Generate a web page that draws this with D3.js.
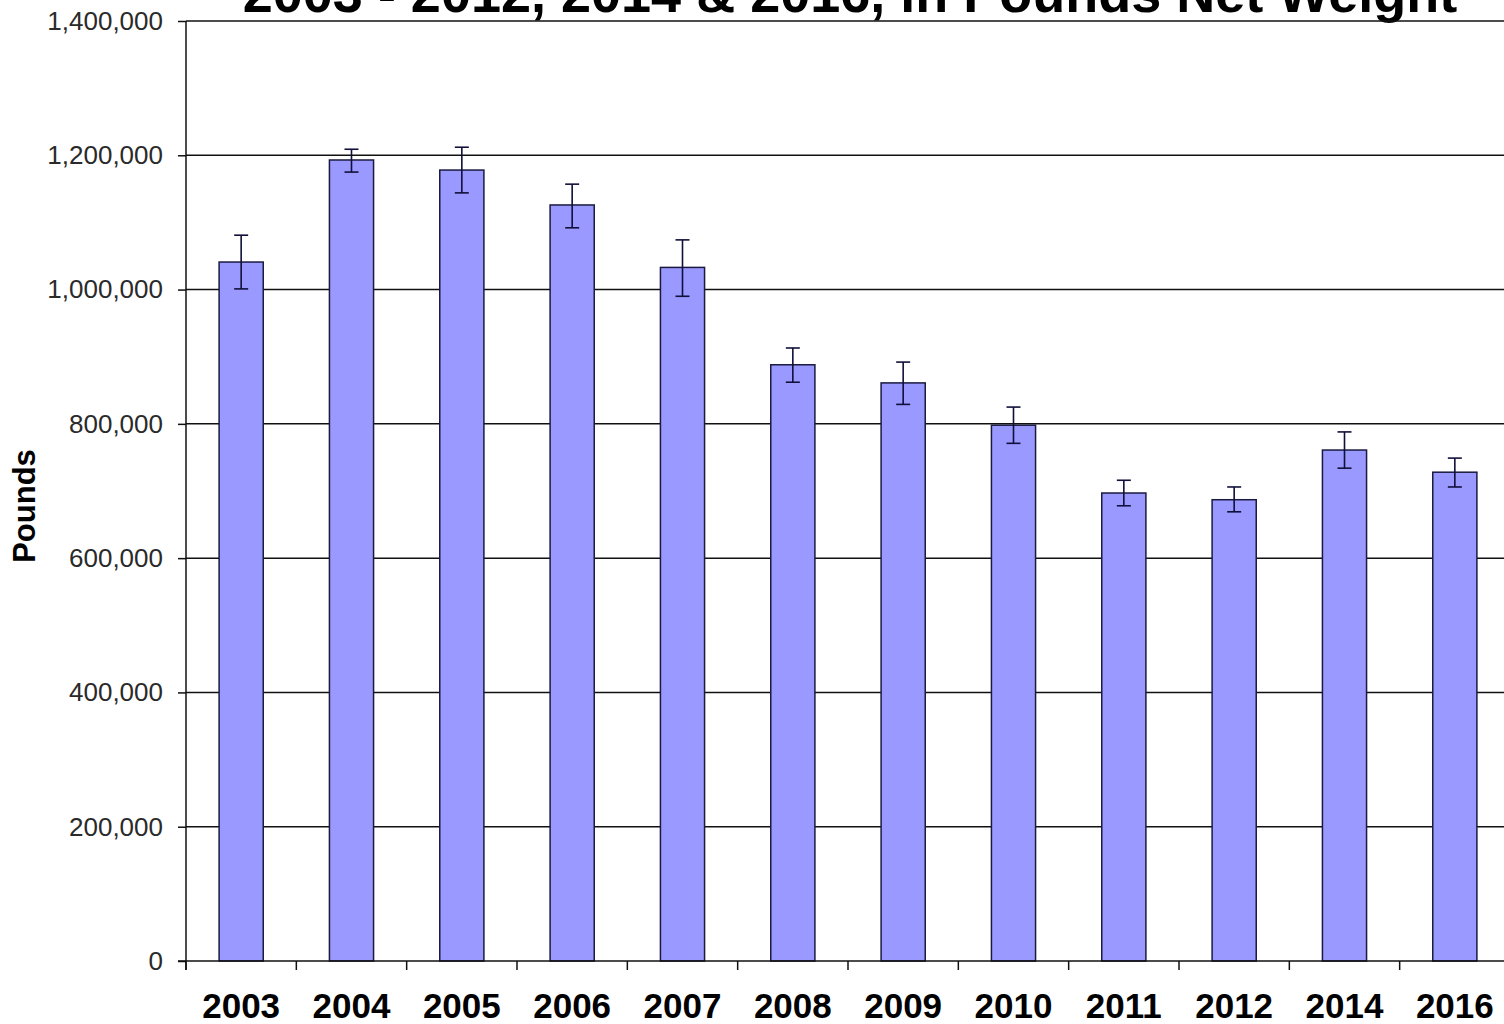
<!DOCTYPE html>
<html>
<head>
<meta charset="utf-8">
<script src="https://cdnjs.cloudflare.com/ajax/libs/d3/7.8.5/d3.min.js"></script>
<style>
  html, body { margin: 0; padding: 0; background: #fff; }
  svg { display: block; }
</style>
</head>
<body>
<div id="chart"></div>
<script>
'use strict';

// data
var years = ['2003', '2004', '2005', '2006', '2007', '2008', '2009', '2010', '2011', '2012', '2014', '2016'];
var pounds = [1041000, 1193000, 1178000, 1126000, 1033000, 888000, 861000, 798000, 697000, 687000, 761000, 728000];
var errHigh = [1081000, 1209000, 1212000, 1157000, 1074000, 913000, 892000, 825000, 716000, 706000, 788000, 749000];
var errLow = [1001000, 1175000, 1144000, 1092000, 990000, 862000, 829000, 771000, 678000, 669000, 734000, 706000];
var yTicks = [0, 200000, 400000, 600000, 800000, 1000000, 1200000, 1400000];

var width = 1504;
var height = 1024;
var plotLeft = 186, plotRight = 1510, plotTop = 21, plotBottom = 961;

var svg = d3.select('#chart')
  .append('svg')
  .attr('width', width)
  .attr('height', height)
  .style('font-family', 'Arial, "Liberation Sans", sans-serif');

var x = d3.scaleBand()
  .domain(years)
  .range([plotLeft, plotRight])
  .paddingInner(0.6)
  .paddingOuter(0.3);

var y = d3.scaleLinear()
  .domain([0, 1400000])
  .range([plotBottom, plotTop]);

// title, cut off at the top like the original
svg.append('text')
  .attr('x', 850)
  .attr('y', 12)
  .attr('text-anchor', 'middle')
  .attr('font-size', 54)
  .attr('font-weight', 'bold')
  .attr('fill', '#000')
  .text('2003 - 2012, 2014 & 2016, in Pounds Net Weight');

// gridlines
svg.append('g')
  .selectAll('line')
  .data(yTicks.slice(1))
  .enter()
  .append('line')
  .attr('x1', plotLeft)
  .attr('x2', plotRight)
  .attr('y1', function(d) { return y(d); })
  .attr('y2', function(d) { return y(d); })
  .attr('stroke', '#111')
  .attr('stroke-width', 1.5);

// y axis
var yAxis = svg.append('g')
  .attr('transform', 'translate(' + plotLeft + ',0)')
  .call(d3.axisLeft(y)
    .tickValues(yTicks)
    .tickSize(8)
    .tickPadding(15)
    .tickFormat(d3.format(',')));
yAxis.select('.domain').attr('stroke', '#111').attr('stroke-width', 1.5)
  .attr('d', 'M0,' + plotTop + 'V' + (plotBottom + 9));
yAxis.selectAll('.tick line').attr('stroke', '#111').attr('stroke-width', 1.5);
yAxis.selectAll('.tick text')
  .attr('font-size', 26)
  .attr('fill', '#2a2a2a')
  .attr('font-family', 'Arial, "Liberation Sans", sans-serif');

// bars
svg.append('g')
  .selectAll('rect')
  .data(pounds)
  .enter()
  .append('rect')
  .attr('x', function(d, i) { return x(years[i]); })
  .attr('y', function(d) { return y(d); })
  .attr('width', x.bandwidth())
  .attr('height', function(d) { return plotBottom - y(d); })
  .attr('fill', '#9999FF')
  .attr('stroke', '#1a1a40')
  .attr('stroke-width', 1.5);

// error bars
var err = svg.append('g')
  .attr('stroke', '#10103a')
  .attr('stroke-width', 1.6);
years.forEach(function(yr, i) {
  var cx = x(yr) + x.bandwidth() / 2;
  err.append('line').attr('x1', cx).attr('x2', cx)
    .attr('y1', y(errLow[i])).attr('y2', y(errHigh[i]));
  err.append('line').attr('x1', cx - 7).attr('x2', cx + 7)
    .attr('y1', y(errLow[i])).attr('y2', y(errLow[i]));
  err.append('line').attr('x1', cx - 7).attr('x2', cx + 7)
    .attr('y1', y(errHigh[i])).attr('y2', y(errHigh[i]));
});

// x axis
var step = x.step();
svg.append('line')
  .attr('x1', plotLeft - 8).attr('x2', plotRight)
  .attr('y1', plotBottom).attr('y2', plotBottom)
  .attr('stroke', '#111').attr('stroke-width', 1.5);
svg.append('g')
  .selectAll('line')
  .data(years)
  .enter()
  .append('line')
  .attr('x1', function(d) { return x(d) + x.bandwidth() / 2 - step / 2; })
  .attr('x2', function(d) { return x(d) + x.bandwidth() / 2 - step / 2; })
  .attr('y1', plotBottom)
  .attr('y2', plotBottom + 9)
  .attr('stroke', '#111')
  .attr('stroke-width', 1.5);
svg.append('g')
  .selectAll('text')
  .data(years)
  .enter()
  .append('text')
  .attr('x', function(d) { return x(d) + x.bandwidth() / 2; })
  .attr('y', 1018)
  .attr('text-anchor', 'middle')
  .attr('font-size', 35)
  .attr('font-weight', 'bold')
  .attr('fill', '#000')
  .text(function(d) { return d; });

// y axis title
svg.append('text')
  .attr('transform', 'translate(35,506) rotate(-90)')
  .attr('text-anchor', 'middle')
  .attr('font-size', 31)
  .attr('font-weight', 'bold')
  .attr('fill', '#000')
  .text('Pounds');
</script>
</body>
</html>
